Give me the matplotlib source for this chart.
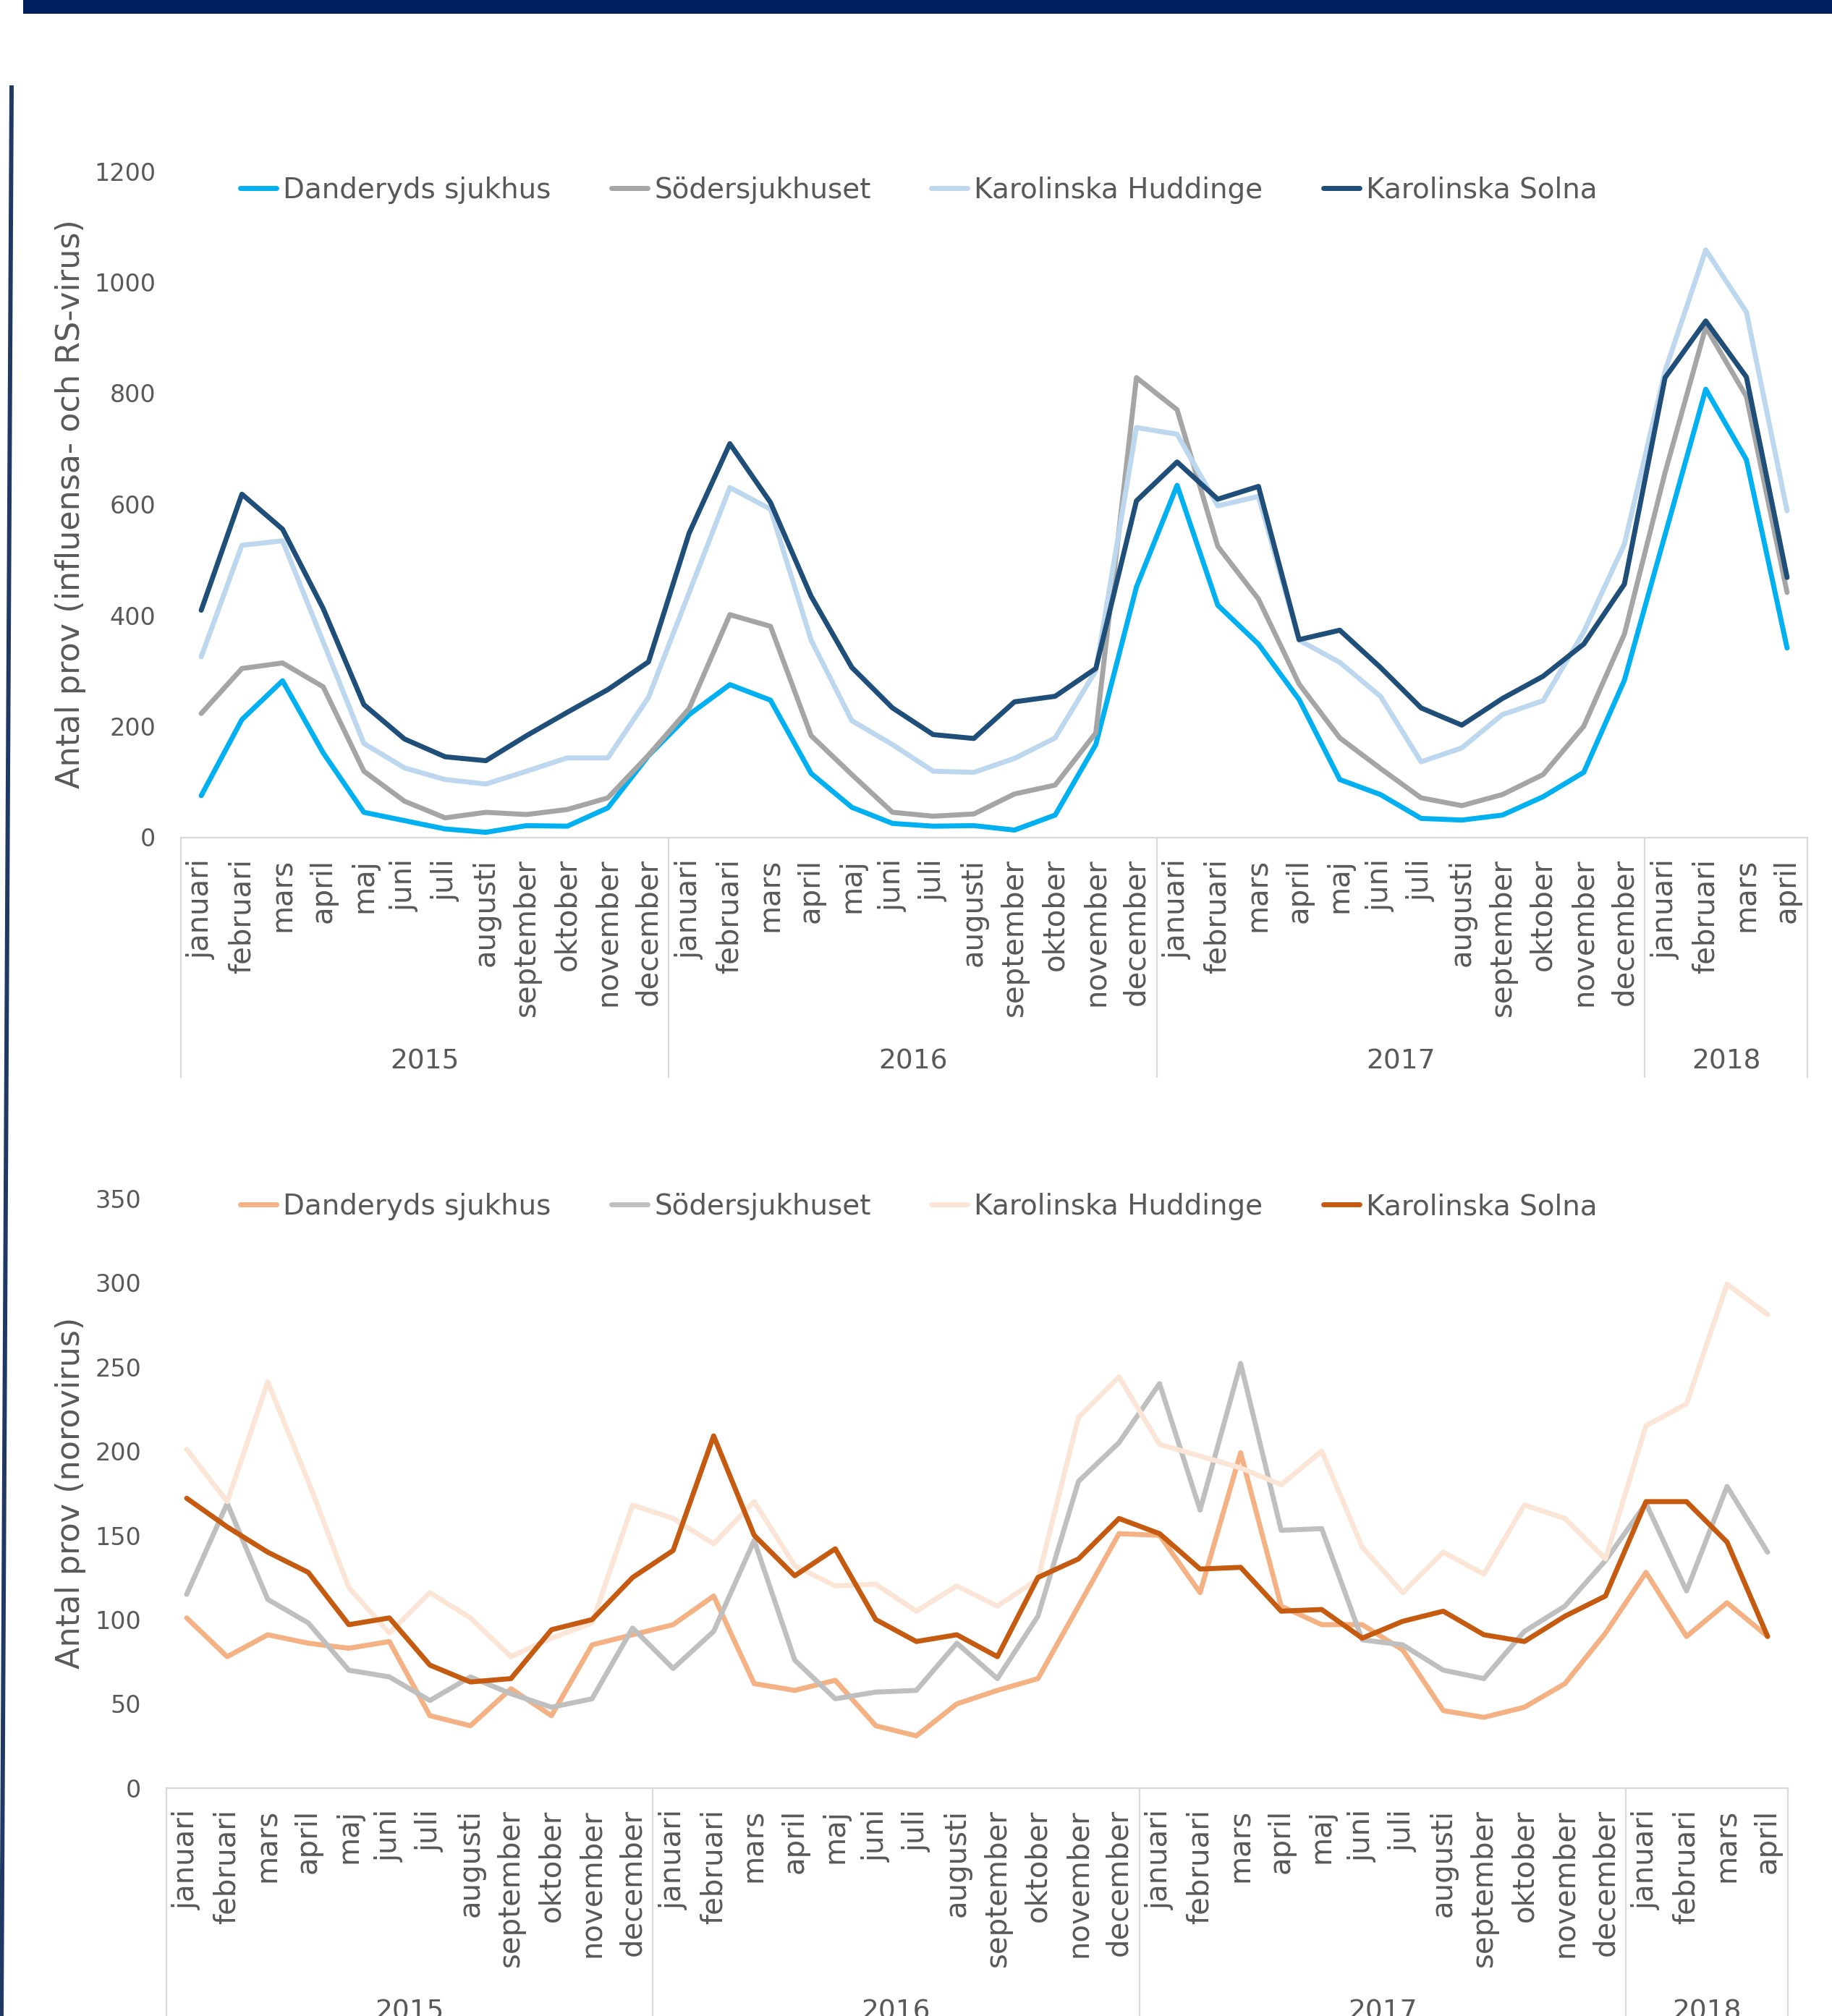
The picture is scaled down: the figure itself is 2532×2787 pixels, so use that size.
import matplotlib
matplotlib.use('Agg')
import matplotlib.pyplot as plt
import matplotlib.transforms as mtransforms
from matplotlib.patches import Rectangle
from matplotlib.lines import Line2D

# Kategorier
months = ['januari', 'februari', 'mars', 'april', 'maj', 'juni', 'juli', 'augusti',
          'september', 'oktober', 'november', 'december'] * 3 + ['januari', 'februari', 'mars', 'april']
years = ['2015', '2016', '2017', '2018']
year_lengths = [12, 12, 12, 4]
hospitals = ['Danderyds sjukhus', 'Södersjukhuset', 'Karolinska Huddinge', 'Karolinska Solna']

# Influensa- och RS-virus
flu_danderyd = [75, 212, 282, 152, 45, 30, 15, 9, 21, 20, 53, 147,
                221, 275, 247, 115, 54, 25, 20, 21, 13, 40, 167, 451,
                634, 418, 348, 248, 104, 77, 34, 31, 40, 73, 117, 283,
                545, 807, 680, 341]
flu_soder = [223, 304, 314, 271, 119, 65, 35, 45, 41, 50, 71, 148,
             232, 401, 380, 183, 113, 45, 38, 42, 78, 94, 188, 828,
             770, 524, 429, 276, 179, 124, 71, 57, 77, 113, 200, 366,
             657, 919, 794, 441]
flu_huddinge = [325, 526, 534, 352, 169, 125, 104, 96, 119, 143, 143, 252,
                441, 630, 591, 355, 210, 167, 119, 117, 142, 179, 300, 738,
                726, 597, 614, 355, 315, 254, 136, 161, 221, 246, 370, 528,
                840, 1058, 946, 588]
flu_solna = [409, 618, 555, 412, 239, 177, 145, 138, 183, 225, 266, 316,
             548, 709, 603, 434, 306, 233, 185, 178, 244, 254, 304, 606,
             676, 609, 632, 356, 373, 306, 233, 202, 250, 290, 348, 456,
             828, 930, 829, 468]

# Norovirus
noro_danderyd = [101, 78, 91, 86, 83, 87, 43, 37, 59, 43, 85, 91,
                 97, 114, 62, 58, 64, 37, 31, 50, 58, 65, 108, 151,
                 150, 116, 199, 108, 97, 97, 82, 46, 42, 48, 62, 92,
                 128, 90, 110, 90]
noro_soder = [115, 169, 112, 98, 70, 66, 52, 66, 56, 48, 53, 95,
              71, 93, 147, 76, 53, 57, 58, 86, 65, 102, 182, 205,
              240, 165, 252, 153, 154, 88, 85, 70, 65, 93, 108, 135,
              169, 117, 179, 140]
noro_huddinge = [201, 170, 241, 182, 119, 92, 116, 101, 78, 89, 98, 168,
                 160, 145, 170, 132, 120, 121, 105, 120, 108, 124, 220, 244,
                 204, 197, 190, 180, 200, 143, 116, 140, 127, 168, 160, 136,
                 215, 228, 299, 281]
noro_solna = [172, 155, 140, 128, 97, 101, 73, 63, 65, 94, 100, 125,
              141, 209, 150, 126, 142, 100, 87, 91, 78, 125, 136, 160,
              151, 130, 131, 105, 106, 89, 99, 105, 91, 87, 102, 114,
              170, 170, 146, 90]

text_color = '#595959'
axis_color = '#D9D9D9'

W, H = 2532, 2787
fig = plt.figure(figsize=(W / 100, H / 100), dpi=100)

# Ram: mörkblå list överst och linje till vänster
fig.patches.append(Rectangle((32 / W, 1 - 19 / H), 1, 19 / H, transform=fig.transFigure,
                             facecolor='#002060', edgecolor='none'))
fig.lines.append(Line2D([16 / W, 2 / W], [1 - 121 / H, 0], transform=fig.transFigure,
                        color='#1F3864', linewidth=4.3))


def draw_chart(rect, label_x, series, colors, ymax, ystep, ylabel, legend_y, year_off, sep_len):
    ax = fig.add_axes(rect)
    x = list(range(len(months)))
    for values, color, name in zip(series, colors, hospitals):
        ax.plot(x, values, color=color, linewidth=5, label=name,
                solid_capstyle='round', solid_joinstyle='round')

    ax.set_xlim(-0.5, len(months) - 0.5)
    ax.set_ylim(0, ymax)
    ax.set_yticks(range(0, ymax + 1, ystep))
    ax.set_xticks(x)
    ax.set_xticklabels(months, rotation=90, fontsize=29, color=text_color)
    ax.tick_params(axis='x', length=0, pad=21)
    ax.tick_params(axis='y', length=0, pad=25, labelsize=24, labelcolor=text_color)

    for side in ['top', 'right', 'left']:
        ax.spines[side].set_visible(False)
    ax.spines['bottom'].set_color(axis_color)
    ax.spines['bottom'].set_linewidth(1.6)

    ax.set_ylabel(ylabel, fontsize=32, color=text_color)
    ax.yaxis.label.set_verticalalignment('center')
    ax.yaxis.set_label_coords(label_x, 0.5)

    # Årsgrupper under månaderna
    trans = mtransforms.blended_transform_factory(ax.transData, ax.transAxes)
    start = 0
    edges = [-0.5]
    for year, n in zip(years, year_lengths):
        ax.text(start + (n - 1) / 2, -year_off, year, transform=trans, ha='center', va='center',
                fontsize=27, color=text_color, clip_on=False)
        start += n
        edges.append(start - 0.5)
    for e in edges:
        ax.plot([e, e], [0, -sep_len], transform=trans, color=axis_color, linewidth=1.6, clip_on=False)

    ax.legend(loc='center', bbox_to_anchor=(1270 / W, legend_y), bbox_transform=fig.transFigure,
              ncol=4, frameon=False, fontsize=28, labelcolor=text_color, handlelength=1.27,
              handletextpad=0.25, columnspacing=2.15, borderpad=0, borderaxespad=0)
    return ax


top_rect = [250 / W, 1 - 1157.5 / H, 2248 / W, 921 / H]
draw_chart(top_rect, (98 - 250) / 2248,
           [flu_danderyd, flu_soder, flu_huddinge, flu_solna],
           ['#00B0F0', '#A5A5A5', '#BDD7EE', '#1F4E79'],
           1200, 200, 'Antal prov (influensa- och RS-virus)',
           1 - 263 / H, 310 / 921, 331 / 921)

bottom_rect = [230 / W, 1 - 2472 / H, 2241 / W, 815.5 / H]
draw_chart(bottom_rect, (98 - 230) / 2241,
           [noro_danderyd, noro_soder, noro_huddinge, noro_solna],
           ['#F4B183', '#BFBFBF', '#FBE5D6', '#C55A11'],
           350, 50, 'Antal prov (norovirus)',
           1 - 1668 / H, 310 / 815.5, 0.45)

fig.savefig('out.png', dpi=100)
